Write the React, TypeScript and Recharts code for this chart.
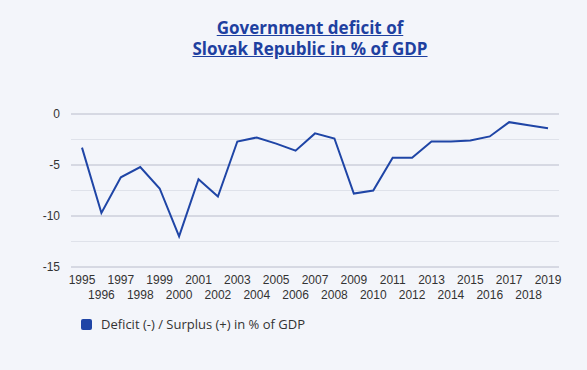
import React from 'react';
import { LineChart, Line, XAxis, YAxis, CartesianGrid, ReferenceLine } from 'recharts';

const years = [
	'1995', '1996', '1997', '1998', '1999', '2000', '2001', '2002', '2003', '2004', '2005', '2006', '2007',
	'2008', '2009', '2010', '2011', '2012', '2013', '2014', '2015', '2016', '2017', '2018', '2019',
];
const deficit = [
	-3.3, -9.7, -6.2, -5.2, -7.3, -12.0, -6.4, -8.1, -2.7, -2.3, -2.9, -3.6, -1.9,
	-2.4, -7.8, -7.5, -4.3, -4.3, -2.7, -2.7, -2.6, -2.2, -0.8, -1.1, -1.4,
];
const yTicks = [-15, -10, -5, 0];
const minorGrid = [-2.5, -7.5, -12.5];

const data = years.map((year, i) => ({ year, value: deficit[i] }));

const BLUE = '#1f45a6';

const YearTick = ({ x, y, payload, index }: any) => (
	<text
		x={x}
		y={y}
		dy={index % 2 === 0 ? 9 : 24}
		textAnchor='middle'
		fill='#333'
		fontSize={12}
		fontFamily='"Liberation Sans", Arial, sans-serif'
	>
		{payload.value}
	</text>
);

export default function App() {
	return (
		<div
			style={{
				position: 'fixed',
				left: 0,
				top: 0,
				width: 587,
				height: 370,
				background: '#f3f5fa',
				overflow: 'hidden',
			}}
		>
			<div
				style={{
					position: 'absolute',
					left: 0,
					top: 17,
					width: 620,
					textAlign: 'center',
					fontFamily: '"Open Sans", sans-serif',
					fontWeight: 700,
					fontSize: 17,
					lineHeight: '21px',
					color: '#1e40a0',
					textDecoration: 'underline',
				}}
			>
				Government deficit of
				<br />
				Slovak Republic in % of GDP
			</div>
			<div style={{ position: 'absolute', left: 0, top: 0 }}>
				<LineChart
					width={587}
					height={370}
					data={data}
					margin={{ top: 114, right: 28, bottom: 63, left: 0 }}
				>
					<CartesianGrid vertical={false} stroke='#b9bccb' />
					{minorGrid.map((v) => (
						<ReferenceLine key={v} y={v} stroke='#dfe2ea' />
					))}
					<XAxis
						dataKey='year'
						interval={0}
						height={40}
						padding={{ left: 11, right: 11 }}
						axisLine={false}
						tickLine={false}
						tick={<YearTick />}
					/>
					<YAxis
						width={71}
						domain={[-15, 0]}
						ticks={yTicks}
						axisLine={false}
						tickLine={false}
						tickMargin={5}
						tick={{ fill: '#333', fontSize: 12, fontFamily: '"Liberation Sans", Arial, sans-serif' }}
					/>
					<Line
						type='linear'
						dataKey='value'
						stroke={BLUE}
						strokeWidth={2}
						dot={false}
						isAnimationActive={false}
					/>
				</LineChart>
			</div>
			<div
				style={{
					position: 'absolute',
					left: 81,
					top: 315,
					display: 'flex',
					alignItems: 'center',
					fontFamily: '"Open Sans", sans-serif',
					fontSize: 13,
					color: '#333',
				}}
			>
				<span
					style={{
						display: 'inline-block',
						width: 11,
						height: 11,
						borderRadius: 2,
						background: BLUE,
						marginRight: 9,
					}}
				/>
				Deficit (-) / Surplus (+) in % of GDP
			</div>
		</div>
	);
}
